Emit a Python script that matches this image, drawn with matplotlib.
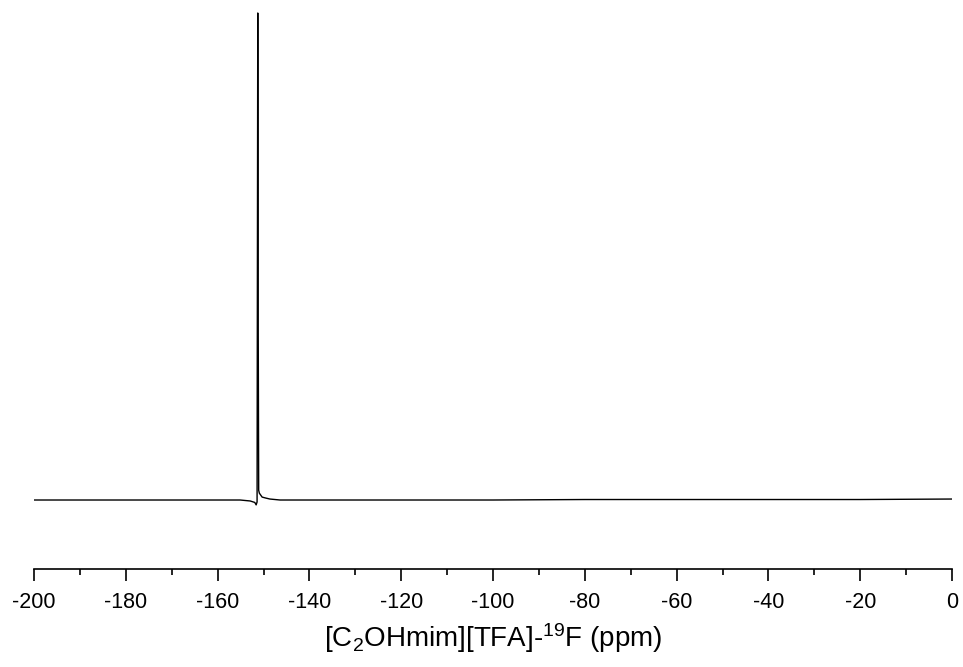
import numpy as np
import matplotlib
matplotlib.use("Agg")
from matplotlib import pyplot as plt

# 19F NMR spectrum (ppm, relative intensity)
ppm = [-200.0, -190.0, -175.0, -160.0, -155.1, -152.9, -151.9, -151.6,
       -151.4, -151.25, -151.15, -151.05, -150.9, -150.6, -150.3, -149.5,
       -148.6, -146.4, -140.0, -120.0, -100.0, -80.0, -60.0, -40.0, -20.0, 0.0]
intensity = [0.0, 0.0, 0.0, 0.0, 0.0, -0.002, -0.005, -0.010,
             -0.004, 1.0, 0.35, 0.02, 0.014, 0.010, 0.006, 0.004,
             0.002, 0.0, 0.0, 0.0, 0.0, 0.001, 0.001, 0.001, 0.001, 0.002]

x_label = r"[C$_2$OHmim][TFA]-$^{19}$F (ppm)"
x_ticks = [-200, -180, -160, -140, -120, -100, -80, -60, -40, -20, 0]

plt.rcParams['font.family'] = ['Liberation Sans', 'DejaVu Sans']
plt.rcParams['mathtext.fontset'] = 'custom'
plt.rcParams['mathtext.rm'] = 'Liberation Sans'
plt.rcParams['mathtext.default'] = 'regular'
plt.rcParams['axes.unicode_minus'] = False

fig = plt.figure(figsize=(9.63, 6.67), dpi=100)
ax = fig.add_axes([0.0353, 0.1469, 0.9533, 0.838])

ax.plot(ppm, intensity, color='black', lw=1.0)

ax.set_xlim(-200, 0)
ax.set_ylim(-0.1417, 1.006)
ax.set_xticks(x_ticks)
ax.set_xticks(np.arange(-190, 0, 20), minor=True)
ax.set_yticks([])

for s in ['top', 'right', 'left']:
    ax.spines[s].set_visible(False)
ax.spines['bottom'].set_linewidth(1.2)
ax.tick_params(axis='x', which='major', direction='out', length=8.6, width=1.2,
               labelsize=15.5, pad=8)
ax.tick_params(axis='x', which='minor', direction='out', length=4.3, width=1.2)

ax.set_xlabel(x_label, fontsize=20, labelpad=6)

fig.savefig("out.png", dpi=100)
